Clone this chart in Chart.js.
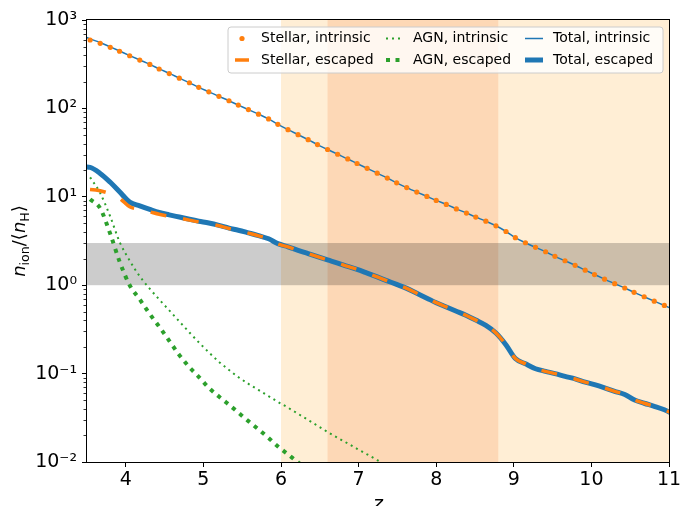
<!DOCTYPE html>
<html>
<head>
<meta charset="utf-8">
<script src="https://cdn.jsdelivr.net/npm/chart.js@4"></script>
<style>
  html, body { margin: 0; padding: 0; background: #fff; }
  #chart { display: block; }
</style>
</head>
<body>
<canvas id="chart" width="692" height="506"></canvas>
<script>
// redshift grid shared by all curves
const redshifts = [3.41, 3.54, 3.67, 3.80, 3.92, 4.05, 4.18, 4.31, 4.43, 4.56,
  4.69, 4.82, 4.94, 5.07, 5.20, 5.33, 5.45, 5.58, 5.71, 5.84,
  5.96, 6.09, 6.22, 6.35, 6.47, 6.60, 6.73, 6.86, 6.98, 7.11,
  7.24, 7.37, 7.49, 7.62, 7.75, 7.88, 8.00, 8.13, 8.26, 8.39,
  8.51, 8.64, 8.77, 8.90, 9.02, 9.15, 9.28, 9.41, 9.53, 9.66,
  9.79, 9.92, 10.04, 10.17, 10.30, 10.43, 10.55, 10.68, 10.81, 10.94, 11.06];

const stellarIntrinsic = [650, 594, 545, 491, 443, 394, 352, 314, 279, 248,
  220, 195, 173, 154, 137, 122, 109, 97, 86, 76,
  66, 57.5, 50.5, 44.3, 39.0, 34.3, 30.3, 26.8, 23.8, 21.0,
  18.5, 16.3, 14.4, 12.7, 11.3, 10.1, 9.1, 8.2, 7.3, 6.55,
  5.9, 5.3, 4.7, 4.05, 3.45, 3.02, 2.68, 2.39, 2.12, 1.89,
  1.68, 1.48, 1.32, 1.17, 1.04, 0.93, 0.83, 0.74, 0.66, 0.59, 0.53];

const stellarEscaped = [12.2, 12.1, 11.7, 10.8, 9.6, 7.7, 7.2, 6.75, 6.35, 6.02,
  5.75, 5.45, 5.2, 4.98, 4.70, 4.38, 4.16, 3.88, 3.62, 3.33,
  2.93, 2.71, 2.48, 2.28, 2.10, 1.93, 1.78, 1.63, 1.51, 1.37,
  1.24, 1.12, 1.02, 0.92, 0.81, 0.714, 0.634, 0.567, 0.508, 0.454,
  0.403, 0.351, 0.288, 0.211, 0.148, 0.129, 0.1135, 0.106, 0.100, 0.093,
  0.087, 0.080, 0.075, 0.069, 0.063, 0.058, 0.0505, 0.0462, 0.0427, 0.039, 0.0347];

const agnIntrinsic = [null, 16.6, 11.0, 5.96, 3.09, 1.90, 1.26, 0.91, 0.69, 0.519,
  0.389, 0.292, 0.226, 0.174, 0.136, 0.110, 0.0912, 0.0767, 0.0653, 0.0556,
  0.0479, 0.0412, 0.0351, 0.0299, 0.0257, 0.0219, 0.0188, 0.0162, 0.0141, 0.0122,
  0.0105, 0.0090];

const agnEscaped = [null, 9.4, 7.4, 3.8, 1.85, 1.0, 0.69, 0.47, 0.34, 0.235,
  0.162, 0.118, 0.092, 0.069, 0.055, 0.0445, 0.0362, 0.029, 0.0234, 0.0187,
  0.0150, 0.0122, 0.0099, 0.0081, 0.0068];

const totalIntrinsic = [680, 611, 556, 497, 446, 396, 353, 315, 280, 249,
  220, 195, 173, 154, 137, 122, 109, 97, 86, 76,
  66, 57.5, 50.5, 44.3, 39.0, 34.3, 30.3, 26.8, 23.8, 21.0,
  18.5, 16.3, 14.4, 12.7, 11.3, 10.1, 9.1, 8.2, 7.3, 6.55,
  5.9, 5.3, 4.7, 4.05, 3.45, 3.02, 2.68, 2.39, 2.12, 1.89,
  1.68, 1.48, 1.32, 1.17, 1.04, 0.93, 0.83, 0.74, 0.66, 0.59, 0.53];

const totalEscaped = [22.0, 21.5, 18.4, 14.6, 11.4, 8.7, 7.9, 7.2, 6.65, 6.25,
  5.9, 5.57, 5.3, 5.05, 4.75, 4.42, 4.19, 3.91, 3.64, 3.35,
  2.95, 2.72, 2.48, 2.28, 2.10, 1.93, 1.78, 1.63, 1.51, 1.37,
  1.24, 1.12, 1.02, 0.92, 0.81, 0.714, 0.634, 0.567, 0.508, 0.454,
  0.403, 0.351, 0.288, 0.211, 0.148, 0.129, 0.1135, 0.106, 0.100, 0.093,
  0.087, 0.080, 0.075, 0.069, 0.063, 0.058, 0.0505, 0.0462, 0.0427, 0.039, 0.0347];

const xTicks = [4, 5, 6, 7, 8, 9, 10, 11];
const yTicks = [0.01, 0.1, 1, 10, 100, 1000];
const yTickLabels = ['10\u207B\u00B2', '10\u207B\u00B9', '10\u2070', '10\u00B9', '10\u00B2', '10\u00B3'];

// shaded regions
const outerSpan = [6, 11];
const innerSpan = [6.6, 8.8];
const grayBand = [1, 3];

const ORANGE = '#ff7f0e', GREEN = '#2ca02c', BLUE = '#1f77b4';
const FONT = "'DejaVu Sans', sans-serif";

function toPoints(values) {
  return redshifts.map((z, i) => ({ x: z, y: values[i] })).filter(p => p.y != null);
}

const datasets = [
  { label: 'Stellar, intrinsic', data: toPoints(stellarIntrinsic), showLine: false,
    pointRadius: 2.6, pointBackgroundColor: ORANGE, pointBorderWidth: 0, borderColor: ORANGE, order: 1 },
  { label: 'Stellar, escaped', data: toPoints(stellarEscaped), borderColor: ORANGE, borderWidth: 3.5,
    borderDash: [16, 17], borderDashOffset: 23, pointRadius: 0, cubicInterpolationMode: 'monotone', order: 2 },
  { label: 'AGN, intrinsic', data: toPoints(agnIntrinsic), borderColor: GREEN, borderWidth: 2,
    borderDash: [2, 4], pointRadius: 0, cubicInterpolationMode: 'monotone', order: 3 },
  { label: 'AGN, escaped', data: toPoints(agnEscaped), borderColor: GREEN, borderWidth: 4,
    borderDash: [4, 5.5], pointRadius: 0, cubicInterpolationMode: 'monotone', order: 4 },
  { label: 'Total, intrinsic', data: toPoints(totalIntrinsic), borderColor: BLUE, borderWidth: 1.5,
    pointRadius: 0, cubicInterpolationMode: 'monotone', order: 5 },
  { label: 'Total, escaped', data: toPoints(totalEscaped), borderColor: BLUE, borderWidth: 5,
    pointRadius: 0, cubicInterpolationMode: 'monotone', borderJoinStyle: 'round', order: 6 }
];
datasets.forEach(d => { d.clip = 0; d.fill = false; });

// spans, frame, minor ticks, y label and legend
const decorations = {
  id: 'decorations',
  beforeDatasetsDraw(chart) {
    const { ctx, chartArea: ca, scales: { x, y } } = chart;
    ctx.save();
    ctx.beginPath();
    ctx.rect(ca.left, ca.top, ca.width, ca.height);
    ctx.clip();
    let a = x.getPixelForValue(outerSpan[0]), b = x.getPixelForValue(outerSpan[1]);
    ctx.fillStyle = '#ffeed5';
    ctx.fillRect(a, ca.top, b - a, ca.height);
    a = x.getPixelForValue(innerSpan[0]); b = x.getPixelForValue(innerSpan[1]);
    ctx.fillStyle = '#fdd8b6';
    ctx.fillRect(a, ca.top, b - a, ca.height);
    const yt = y.getPixelForValue(grayBand[1]), yb = y.getPixelForValue(grayBand[0]);
    ctx.fillStyle = 'rgba(0,0,0,0.2)';
    ctx.fillRect(ca.left, yt, ca.width, yb - yt);
    ctx.restore();
  },
  afterDraw(chart) {
    const { ctx, chartArea: ca, scales: { y } } = chart;
    ctx.save();
    // frame
    ctx.strokeStyle = '#000';
    ctx.lineWidth = 1;
    ctx.strokeRect(ca.left - 0.5, ca.top - 0.5, ca.width + 1, ca.height + 1);
    // minor log ticks
    ctx.lineWidth = 0.8;
    ctx.beginPath();
    yTicks.slice(0, -1).forEach(d => {
      for (let k = 2; k <= 9; k++) {
        const py = Math.round(y.getPixelForValue(k * d)) + 0.5;
        ctx.moveTo(ca.left - 1, py);
        ctx.lineTo(ca.left - 3.5, py);
      }
    });
    ctx.stroke();

    // y axis title  n_ion / <n_H>
    const big = 18, small = 12.6;
    const parts = [
      { t: 'n', f: 'italic ' + big + 'px ' + FONT, dy: 0 },
      { t: 'ion', f: small + 'px ' + FONT, dy: 3.5 },
      { t: '/\u27E8', f: big + 'px ' + FONT, dy: 0 },
      { t: 'n', f: 'italic ' + big + 'px ' + FONT, dy: 0 },
      { t: 'H', f: small + 'px ' + FONT, dy: 3.5 },
      { t: '\u27E9', f: big + 'px ' + FONT, dy: 0 }
    ];
    let total = 0;
    parts.forEach(p => { ctx.font = p.f; p.w = ctx.measureText(p.t).width; total += p.w; });
    ctx.translate(25, (ca.top + ca.bottom) / 2);
    ctx.rotate(-Math.PI / 2);
    ctx.fillStyle = '#000';
    ctx.textBaseline = 'alphabetic';
    let px = -total / 2;
    parts.forEach(p => { ctx.font = p.f; ctx.fillText(p.t, px, p.dy); px += p.w; });
    ctx.restore();

    // legend
    ctx.save();
    const bx = 228, by = 27, bw = 435, bh = 46, r = 3;
    ctx.beginPath();
    ctx.moveTo(bx + r, by);
    ctx.arcTo(bx + bw, by, bx + bw, by + bh, r);
    ctx.arcTo(bx + bw, by + bh, bx, by + bh, r);
    ctx.arcTo(bx, by + bh, bx, by, r);
    ctx.arcTo(bx, by, bx + bw, by, r);
    ctx.closePath();
    ctx.fillStyle = 'rgba(255,255,255,0.8)';
    ctx.fill();
    ctx.strokeStyle = '#cccccc';
    ctx.lineWidth = 1;
    ctx.stroke();

    const cols = [{ h0: 235, h1: 249, tx: 261 }, { h0: 386, h1: 401, tx: 413 }, { h0: 525, h1: 543, tx: 553 }];
    const rows = [38.5, 60];
    ctx.font = '14px ' + FONT;
    ctx.textBaseline = 'middle';
    chart.data.datasets.forEach((ds, i) => {
      const c = cols[Math.floor(i / 2)], ry = rows[i % 2];
      if (ds.showLine === false) {
        ctx.fillStyle = ds.pointBackgroundColor;
        ctx.beginPath();
        ctx.arc((c.h0 + c.h1) / 2, ry, ds.pointRadius, 0, Math.PI * 2);
        ctx.fill();
      } else {
        ctx.strokeStyle = ds.borderColor;
        ctx.lineWidth = ds.borderWidth;
        ctx.lineCap = 'butt';
        ctx.setLineDash(ds.borderDash && ds.borderDash[0] < 10 ? ds.borderDash : []);
        ctx.beginPath();
        ctx.moveTo(c.h0, ry);
        ctx.lineTo(c.h1, ry);
        ctx.stroke();
        ctx.setLineDash([]);
      }
      ctx.fillStyle = '#000';
      ctx.fillText(ds.label, c.tx, ry);
    });
    ctx.restore();
  }
};

new Chart(document.getElementById('chart'), {
  type: 'line',
  data: { datasets },
  options: {
    responsive: false,
    animation: false,
    devicePixelRatio: 1,
    events: [],
    layout: { padding: { left: 0, right: 23, top: 20, bottom: 0 } },
    plugins: { legend: { display: false }, tooltip: { enabled: false } },
    scales: {
      x: {
        type: 'linear',
        min: 3.5,
        max: 11,
        afterBuildTicks: s => { s.ticks = xTicks.map(v => ({ value: v })); },
        afterFit: s => { s.height = 44; },
        grid: { display: true, drawOnChartArea: false, drawTicks: true, tickLength: 5, tickColor: '#000', tickWidth: 1 },
        border: { display: false },
        ticks: { color: '#000', font: { family: FONT, size: 19 }, padding: 2, maxRotation: 0,
          callback: v => String(v) },
        title: { display: true, text: 'z', color: '#000',
          font: { family: FONT, size: 19, style: 'italic', lineHeight: 1 }, padding: { top: 0, bottom: -9 } }
      },
      y: {
        type: 'logarithmic',
        min: 0.01,
        max: 1000,
        afterBuildTicks: s => { s.ticks = yTicks.map(v => ({ value: v, major: true })); },
        afterFit: s => { s.width = 87; },
        grid: { display: true, drawOnChartArea: false, drawTicks: true, tickLength: 5, tickColor: '#000', tickWidth: 1 },
        border: { display: false },
        ticks: { color: '#000', font: { family: FONT, size: 19 }, padding: 5,
          callback: (v, i) => yTickLabels[yTicks.indexOf(v)] }
      }
    }
  },
  plugins: [decorations]
});
</script>
</body>
</html>
